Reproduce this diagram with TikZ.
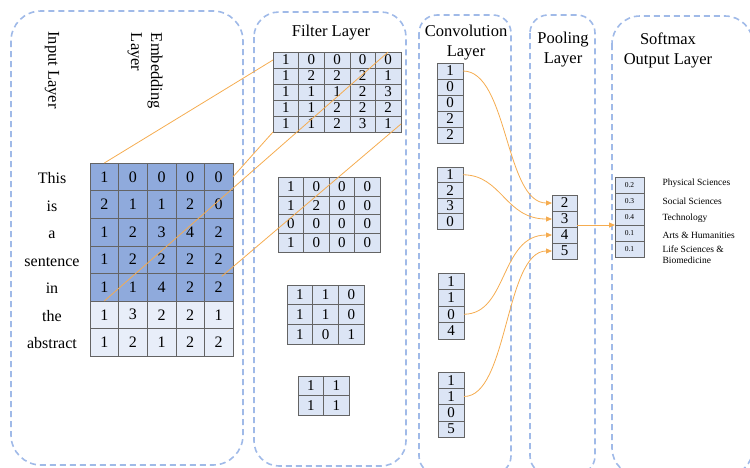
\documentclass[tikz,border=0pt]{standalone}
\usepackage{fontspec}
\setmainfont{Liberation Serif}
\usetikzlibrary{arrows.meta,calc}

\definecolor{boxblue}{RGB}{160,186,232}
\definecolor{embdark}{RGB}{143,170,220}
\definecolor{emblight}{RGB}{232,238,249}
\definecolor{celllight}{RGB}{220,229,245}
\definecolor{cellline}{RGB}{100,100,100}
\definecolor{linkorange}{RGB}{245,172,80}

\tikzset{
  layerbox/.style={draw=boxblue, line width=1.6pt, dash pattern=on 6pt off 4pt, rounded corners=#1},
  cellbase/.style={draw=cellline, line width=0.6pt, inner sep=0pt, outer sep=0pt},
  heading/.style={font=\fontsize{16.5}{20}\selectfont, align=center},
  word/.style={font=\fontsize{16}{19}\selectfont, anchor=base},
  link/.style={draw=linkorange, line width=0.8pt},
  flow/.style={link, -{Triangle[length=6pt,width=5pt]}},
  catlabel/.style={font=\fontsize{9.5}{11}\selectfont, anchor=west, align=left},
}

% \cellgrid{name}{left}{top}{cell width}{cell height}{fill}{font}{rows}
\newcommand\cellgrid[8]{%
  \foreach \rowvals [count=\r] in {#8} {
    \foreach \v [count=\c] in \rowvals {
      \node[cellbase, fill=#6, font=#7, minimum width=#4pt, minimum height=#5pt]
        (#1-\r-\c) at ({#2+(\c-0.5)*#4},{#3+(\r-0.5)*#5}) {\v};
    }
  }%
}

\begin{document}
\begin{tikzpicture}[x=1pt,y=-1pt]
\useasboundingbox (0,0) rectangle (750,467);

% layer frames
\begin{scope}
  \clip (0,0) rectangle (750,467);
  \draw[layerbox=30pt] (11,11) rectangle (243,465);
  \draw[layerbox=25pt] (254,12) rectangle (406,466);
  \draw[layerbox=18pt] (419,15) rectangle (511,474);
  \draw[layerbox=18pt] (530,15) rectangle (595,474);
  \draw[layerbox=28pt] (612,16) rectangle (753,476);
\end{scope}

% headings
\node[heading, rotate=-90] (inlab) at (52,70) {Input Layer};
\node[heading, rotate=-90, align=left] (emblab) at (145,71) {Embedding\\Layer};
\node[heading] (filtlab) at (331,33) {Filter Layer};
\node[heading] (convlab) at (466,43) {Convolution\\Layer};
\node[heading] (poollab) at (563,50) {Pooling\\Layer};
\node[heading] (softlab) at (668,50) {Softmax\\Output Layer};

% input words
\node[word] (w1) at (52,183) {This};
\node[word] (w2) at (52,211) {is};
\node[word] (w3) at (52,238) {a};
\node[word] (w4) at (52,266) {sentence};
\node[word] (w5) at (52,293) {in};
\node[word] (w6) at (52,321) {the};
\node[word] (w7) at (52,348) {abstract};

% embedding matrix
\cellgrid{e}{90}{163}{28.6}{27.6}{embdark}{\fontsize{16}{16}\selectfont}
  {{1,0,0,0,0},{2,1,1,2,0},{1,2,3,4,2},{1,2,2,2,2},{1,1,4,2,2}}
\cellgrid{el}{90}{301}{28.6}{27.5}{emblight}{\fontsize{16}{16}\selectfont}
  {{1,3,2,2,1},{1,2,1,2,2}}

% filters
\cellgrid{fa}{273}{52}{25.6}{16}{celllight}{\fontsize{15}{15}\selectfont}
  {{1,0,0,0,0},{1,2,2,2,1},{1,1,1,2,3},{1,1,2,2,2},{1,1,2,3,1}}
\cellgrid{fb}{278}{177}{25.5}{18.8}{celllight}{\fontsize{15}{15}\selectfont}
  {{1,0,0,0},{1,2,0,0},{0,0,0,0},{1,0,0,0}}
\cellgrid{fc}{287}{285}{25.7}{19.7}{celllight}{\fontsize{15}{15}\selectfont}
  {{1,1,0},{1,1,0},{1,0,1}}
\cellgrid{fd}{298}{376}{25.5}{19.5}{celllight}{\fontsize{15}{15}\selectfont}
  {{1,1},{1,1}}

% convolution outputs
\cellgrid{ca}{437}{63}{26}{16}{celllight}{\fontsize{15}{15}\selectfont}
  {{1},{0},{0},{2},{2}}
\cellgrid{cb}{437}{167}{26}{15.5}{celllight}{\fontsize{15}{15}\selectfont}
  {{1},{2},{3},{0}}
\cellgrid{cc}{438}{273}{26}{16.5}{celllight}{\fontsize{15}{15}\selectfont}
  {{1},{1},{0},{4}}
\cellgrid{cd}{438}{372}{26}{16.3}{celllight}{\fontsize{15}{15}\selectfont}
  {{1},{1},{0},{5}}

% pooled vector
\cellgrid{pa}{552}{195}{25}{16}{celllight}{\fontsize{15}{15}\selectfont}
  {{2},{3},{4},{5}}

% softmax probabilities
\cellgrid{sa}{615}{177}{29}{16}{celllight}{\fontsize{7.5}{8}\selectfont}
  {{0.2},{0.3},{0.4},{0.1},{0.1}}

\node[catlabel] (c1) at (659,183) {Physical Sciences};
\node[catlabel] (c2) at (659,201) {Social Sciences};
\node[catlabel] (c3) at (659,218) {Technology};
\node[catlabel] (c4) at (659,235) {Arts \& Humanities};
\node[catlabel, font=\fontsize{9.5}{11}\selectfont] (c5) at (659,255) {Life Sciences \&\\Biomedicine};

% embedding window to the first filter
\draw[link] (e-1-1.north) -- (fa-1-1.west);
\draw[link] (e-1-5.east) -- (fa-5-1.south west);
\draw[link] (e-5-1.south) -- (fa-1-5.north);
\draw[link] ($(e-5-5.north)+(3,3)$) -- (fa-5-5.east);

% convolution to pooling
\draw[flow] (ca-1-1.east) .. controls (508,71) and (505,203) .. (pa-1-1.west);
\draw[flow] (cb-1-1.east) .. controls (502,175) and (505,219) .. (pa-2-1.west);
\draw[flow] (cc-3-1.east) .. controls (508,314) and (500,235) .. (pa-3-1.west);
\draw[flow] (cd-2-1.east) .. controls (508,397) and (505,251) .. (pa-4-1.west);

% pooling to softmax
\coordinate (pout) at ($(pa-3-1.north east)+(0,-2)$);
\draw[flow] (pout) -- (pout -| sa-3-1.west);
\end{tikzpicture}
\end{document}
